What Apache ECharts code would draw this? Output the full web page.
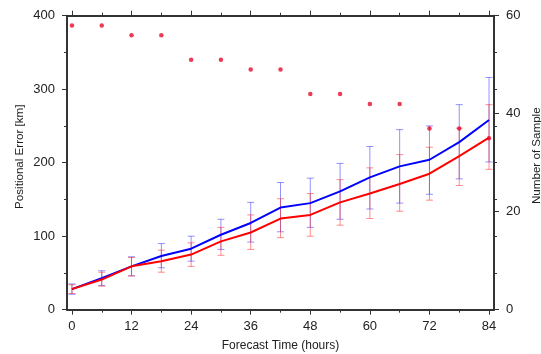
<!DOCTYPE html>
<html>
<head>
<meta charset="utf-8">
<script src="https://cdn.jsdelivr.net/npm/echarts@6/dist/echarts.min.js"></script>
<style>html,body{margin:0;padding:0;background:#fff;}#c{width:541px;height:354px;}</style>
</head>
<body>
<div id="c"></div>
<script>
var hours = [0, 6, 12, 18, 24, 30, 36, 42, 48, 54, 60, 66, 72, 78, 84];
var xTickLabels = [0, 12, 24, 36, 48, 60, 72, 84];
var xMinorTicks = [6, 18, 30, 42, 54, 66, 78];
var blueErr = [28, 43, 59, 73, 83, 102, 118, 139, 145, 161, 180, 195, 204, 228, 258];
var redErr = [28, 41, 59, 66, 75, 93, 105, 124, 129, 146, 158, 171, 185, 209, 234];
var blueLow = [21, 33, 46, 57, 66, 82, 92, 106, 112, 123, 137, 145, 157, 178, 201];
var blueHigh = [35, 53, 72, 90, 100, 123, 146, 173, 179, 199, 222, 245, 250, 279, 316];
var redLow = [22, 32, 46, 51, 59, 74, 82, 98, 100, 115, 124, 134, 149, 169, 191];
var redHigh = [34, 51, 71, 81, 91, 112, 129, 151, 158, 177, 193, 211, 221, 247, 279];
var samples = [58, 58, 56, 56, 51, 51, 49, 49, 44, 44, 42, 42, 37, 37, 35];

var FONT = 'Liberation Sans, Arial, Helvetica, sans-serif';
var AX = '#333';

function errSeries(low, high, color) {
  return {
    type: 'custom',
    xAxisIndex: 0, yAxisIndex: 0,
    silent: true,
    z: 2,
    data: hours.map(function (h, i) { return [h, low[i], high[i]]; }),
    renderItem: function (params, api) {
      var x = api.value(0);
      var lo = api.coord([x, api.value(1)]);
      var hi = api.coord([x, api.value(2)]);
      var w = 3.5;
      var st = { stroke: color, lineWidth: 1, fill: null };
      return {
        type: 'group',
        children: [
          { type: 'line', shape: { x1: lo[0], y1: lo[1], x2: hi[0], y2: hi[1] }, style: st },
          { type: 'line', shape: { x1: lo[0] - w, y1: lo[1], x2: lo[0] + w, y2: lo[1] }, style: st },
          { type: 'line', shape: { x1: hi[0] - w, y1: hi[1], x2: hi[0] + w, y2: hi[1] }, style: st }
        ]
      };
    }
  };
}

var chart = echarts.init(document.getElementById('c'), null, { renderer: 'canvas' });
chart.setOption({
  animation: false,
  backgroundColor: '#fff',
  textStyle: { fontFamily: FONT },
  grid: { left: 67, right: 47, top: 15.7, bottom: 44.3, containLabel: false, outerBoundsMode: 'none' },
  xAxis: [
    {
      type: 'value', position: 'bottom', min: -1, max: 85,
      name: 'Forecast Time (hours)', nameLocation: 'middle', nameGap: 30, nameMoveOverlap: false,
      nameTextStyle: { fontSize: 12, color: '#222', fontFamily: FONT },
      axisLine: { show: true, onZero: false, lineStyle: { color: AX, width: 2 } },
      axisTick: { show: true, customValues: xTickLabels, length: 5, lineStyle: { color: AX, width: 1 } },
      axisLabel: { show: true, customValues: xTickLabels, fontSize: 13, color: '#222', margin: 10, fontFamily: FONT },
      splitLine: { show: false }
    },
    {
      type: 'value', position: 'top', min: -1, max: 85,
      axisLine: { show: true, onZero: false, lineStyle: { color: AX, width: 2 } },
      axisTick: { show: true, customValues: xTickLabels, length: 5, lineStyle: { color: AX, width: 1 } },
      axisLabel: { show: false },
      splitLine: { show: false }
    },
    {
      type: 'value', position: 'bottom', min: -1, max: 85,
      axisLine: { show: false, onZero: false },
      axisTick: { show: true, customValues: xMinorTicks, length: 3, lineStyle: { color: AX, width: 1 } },
      axisLabel: { show: false },
      splitLine: { show: false }
    },
    {
      type: 'value', position: 'top', min: -1, max: 85,
      axisLine: { show: false, onZero: false },
      axisTick: { show: true, customValues: xMinorTicks, length: 3, lineStyle: { color: AX, width: 1 } },
      axisLabel: { show: false },
      splitLine: { show: false }
    }
  ],
  yAxis: [
    {
      type: 'value', position: 'left', min: 0, max: 400, interval: 100,
      name: 'Positional Error [km]', nameLocation: 'middle', nameGap: 41, nameMoveOverlap: false,
      nameTextStyle: { fontSize: 11.6, color: '#222', fontFamily: FONT, padding: [0, 0, 0, 12] },
      axisLine: { show: true, onZero: false, lineStyle: { color: AX, width: 2 } },
      axisTick: { show: true, length: 5, lineStyle: { color: AX, width: 1 } },
      minorTick: { show: true, splitNumber: 2, length: 3, lineStyle: { color: AX, width: 1 } },
      axisLabel: { fontSize: 13, color: '#222', margin: 12, fontFamily: FONT },
      splitLine: { show: false }
    },
    {
      type: 'value', position: 'right', min: 0, max: 60, interval: 20,
      name: 'Number of Sample', nameLocation: 'middle', nameGap: 37, nameRotate: 90, nameMoveOverlap: false,
      nameTextStyle: { fontSize: 11.6, color: '#222', fontFamily: FONT, padding: [0, 0, 0, 14] },
      axisLine: { show: true, onZero: false, lineStyle: { color: AX, width: 2 } },
      axisTick: { show: true, length: 5, lineStyle: { color: AX, width: 1 } },
      axisLabel: { fontSize: 13, color: '#222', margin: 12, fontFamily: FONT },
      splitLine: { show: false }
    },
    {
      type: 'value', position: 'right', min: 0, max: 400, interval: 50,
      axisLine: { show: false, onZero: false },
      axisTick: { show: true, length: 3, lineStyle: { color: AX, width: 1 } },
      axisLabel: { show: false },
      splitLine: { show: false }
    }
  ],
  series: [
    errSeries(blueLow, blueHigh, 'rgba(40,40,255,0.5)'),
    errSeries(redLow, redHigh, 'rgba(255,30,30,0.5)'),
    {
      type: 'line', xAxisIndex: 0, yAxisIndex: 0, z: 3,
      data: hours.map(function (h, i) { return [h, blueErr[i]]; }),
      symbol: 'none', lineStyle: { color: '#0000ff', width: 2 }
    },
    {
      type: 'line', xAxisIndex: 0, yAxisIndex: 0, z: 4,
      data: hours.map(function (h, i) { return [h, redErr[i]]; }),
      symbol: 'none', lineStyle: { color: '#ff0000', width: 2 }
    },
    {
      type: 'scatter', xAxisIndex: 0, yAxisIndex: 1, z: 5,
      data: hours.map(function (h, i) { return [h, samples[i]]; }),
      symbol: 'circle', symbolSize: 4.5,
      itemStyle: { color: '#e60a2a' }
    }
  ]
});
</script>
</body>
</html>
